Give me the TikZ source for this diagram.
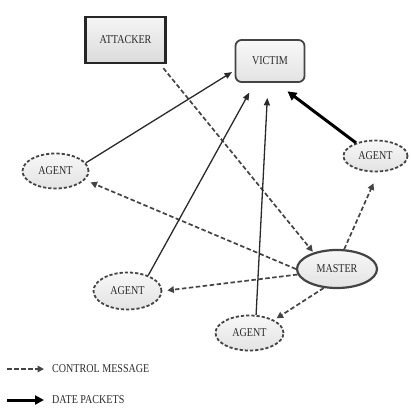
\documentclass[tikz,border=0pt]{standalone}
\usepackage{fontspec}
\newfontfamily\lblfont[FakeStretch=0.84]{Liberation Serif}
\usetikzlibrary{arrows.meta,shapes.geometric}
\definecolor{inkc}{HTML}{2A2A2A}
\definecolor{edgec}{HTML}{444444}
\tikzset{
  lbltext/.style={font=\lblfont\fontsize{12}{14}\selectfont, text=inkc, inner sep=0pt},
  agentnode/.style={ellipse, lbltext, draw=edgec, line width=1.8pt, dash pattern=on 3.2pt off 2pt,
     top color=gray!6, bottom color=gray!22},
  ctrl/.style={draw=edgec, line width=1.7pt, dash pattern=on 4.5pt off 2.5pt, -{Triangle[length=6.5pt,width=6.5pt]}},
  data/.style={draw=inkc, line width=1.3pt, -{Triangle[length=7.5pt,width=6pt]}},
  bigdata/.style={draw=black, line width=3pt, -{Triangle[length=9pt,width=9pt]}}
}
\begin{document}
\begin{tikzpicture}[x=1pt,y=-1pt]
\useasboundingbox (0,0) rectangle (410,414);
% nodes
\node[rectangle, lbltext, draw=black!85, line width=2.6pt, minimum width=80pt, minimum height=46pt,
      top color=gray!8, bottom color=gray!28] (attacker) at (125.5,40) {ATTACKER};
\node[rectangle, rounded corners=6pt, lbltext, draw=edgec, line width=1.8pt, minimum width=69pt, minimum height=42pt,
      top color=gray!5, bottom color=gray!22] (victim) at (270,61) {VICTIM};
\node[agentnode, minimum width=66pt, minimum height=35pt] (agentL) at (55.5,171) {AGENT};
\node[agentnode, minimum width=64pt, minimum height=31pt] (agentR) at (375.5,156) {AGENT};
\node[ellipse, lbltext, draw=edgec, line width=2.2pt, minimum width=80pt, minimum height=38pt,
      top color=gray!6, bottom color=gray!22] (master) at (337,269) {MASTER};
\node[agentnode, minimum width=68pt, minimum height=37pt] (agentBL) at (127.5,291) {AGENT};
\node[agentnode, minimum width=68pt, minimum height=35pt] (agentB) at (249.5,333) {AGENT};
% control messages
\draw[ctrl, shorten <=5pt, shorten >=1pt] (attacker.-35) -- (master.145);
\draw[ctrl, shorten >=6pt] (master.west) -- (agentL.-17);
\draw[ctrl, shorten >=5pt] (master.188) -- (agentBL.east);
\draw[ctrl, shorten >=3pt] (master.-125) -- (agentB.28);
\draw[ctrl, shorten >=12pt] (master.70) -- (agentR.-80);
% data packets
\draw[data, shorten >=3pt] (agentL.15) -- (victim.195);
\draw[data, shorten >=11pt] (agentBL.37) -- (victim.-125);
\draw[data, shorten >=15pt] (agentB.70) -- (victim.-95);
\draw[bigdata, shorten >=14pt] (agentR.146) -- (victim.-74);
% legend
\coordinate (lc1) at (7,369);
\coordinate (lc2) at (44,369);
\coordinate (ld1) at (7,400);
\coordinate (ld2) at (44,400);
\draw[ctrl] (lc1) -- (lc2);
\draw[bigdata] (ld1) -- (ld2);
\node[lbltext, anchor=west] (lctext) at (52,369) {CONTROL MESSAGE};
\node[lbltext, anchor=west] (ldtext) at (52,400) {DATE PACKETS};
\end{tikzpicture}
\end{document}
